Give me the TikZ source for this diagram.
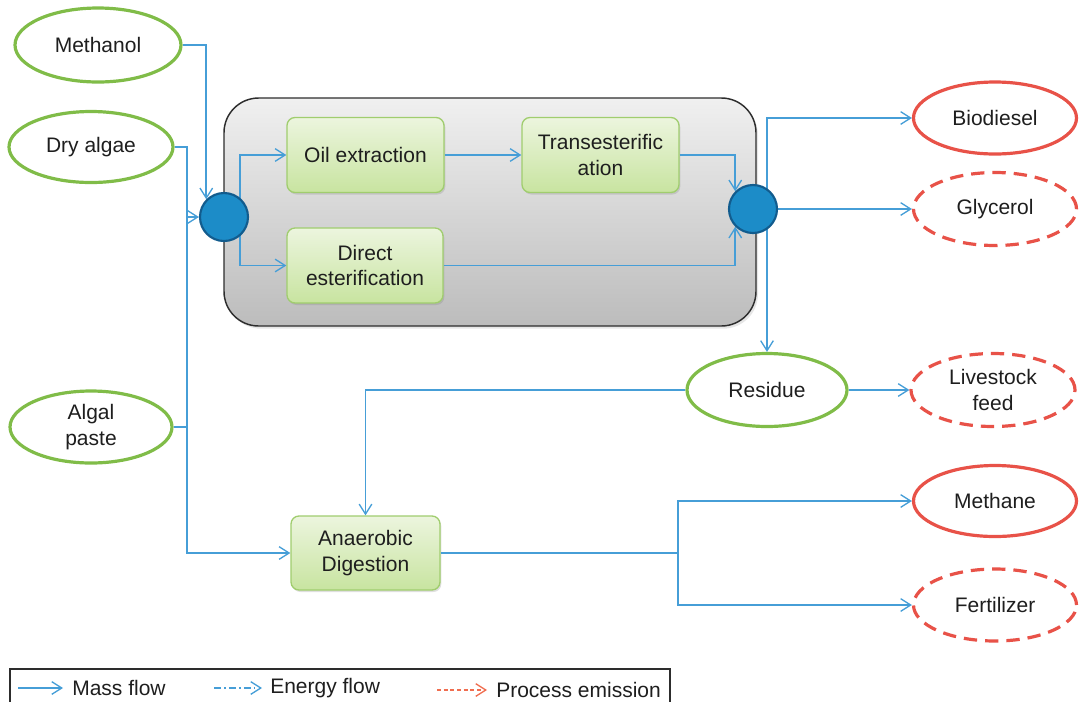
\documentclass[tikz,border=0pt]{standalone}
\usepackage{fontspec}
\setmainfont{Liberation Sans}
\usetikzlibrary{shapes.geometric,arrows.meta,shadows,calc}
\definecolor{flowblue}{RGB}{70,158,215}
\definecolor{okgreen}{RGB}{128,188,72}
\definecolor{outred}{RGB}{232,82,72}
\definecolor{emisred}{RGB}{240,110,80}
\definecolor{boxedge}{RGB}{160,205,110}
\definecolor{boxtop}{RGB}{236,245,222}
\definecolor{boxbot}{RGB}{200,228,160}
\definecolor{greytop}{RGB}{240,240,240}
\definecolor{greybot}{RGB}{188,188,188}
\definecolor{greyedge}{RGB}{45,45,45}
\definecolor{junfill}{RGB}{28,140,200}
\definecolor{junedge}{RGB}{18,92,142}
\definecolor{txt}{RGB}{30,30,30}
\newcommand\diafont{\fontsize{15.75}{19}\selectfont}
\pgfdeclarelayer{bg}
\pgfdeclarelayer{fg}
\pgfsetlayers{bg,main,fg}
\begin{document}
\begin{tikzpicture}[x=0.75pt,y=-0.75pt,
  sz/.style 2 args={minimum width=#1*0.75pt, minimum height=#2*0.75pt},
  oval/.style={ellipse, line width=2.4pt, fill=white, inner sep=0pt, font=\diafont, align=center, text=txt},
  inp/.style={oval, draw=okgreen},
  outp/.style={oval, draw=outred},
  emis/.style={oval, draw=outred, dash pattern=on 10pt off 6pt},
  procbox/.style={rectangle, rounded corners=6pt, draw=boxedge, line width=1pt,
     top color=boxtop, bottom color=boxbot, font=\diafont, align=center, text=txt, inner sep=0pt,
     drop shadow={opacity=0.25, shadow xshift=1pt, shadow yshift=-1.5pt}},
  bigbox/.style={rectangle, rounded corners=26pt, draw=greyedge, line width=1.1pt,
     top color=greytop, bottom color=greybot, inner sep=0pt,
     drop shadow={opacity=0.2, shadow xshift=1.5pt, shadow yshift=-2pt}},
  junction/.style={circle, fill=junfill, draw=junedge, line width=1.6pt, inner sep=0pt, minimum size=48*0.75pt},
  tip/.style={-{Straight Barb[length=7.5pt,width=9.5pt,line width=1pt]}},
  flow/.style={draw=flowblue, line width=1.35pt},
  flowarr/.style={flow, tip},
  legtext/.style={font=\diafont, text=txt, anchor=west, inner sep=0pt}
]
\useasboundingbox (0,0) rectangle (1082,701);

% background stage box
\begin{pgfonlayer}{bg}
\node[bigbox, sz={532}{228}] (stage) at (490,212) {};
\end{pgfonlayer}

% input ovals
\node[inp, sz={166}{74}] (meth) at (98,45) {Methanol};
\node[inp, sz={164}{71}] (dry) at (91,147) {Dry algae};
\node[inp, sz={162}{72}] (paste) at (91,427) {Algal\\paste};
\node[inp, sz={160}{73}] (res) at (767,390) {Residue};

% output ovals
\node[outp, sz={163}{72}] (bio) at (995,118) {Biodiesel};
\node[emis, sz={163}{73}] (gly) at (995,209) {Glycerol};
\node[emis, sz={164}{73}] (feed) at (993,390) {Livestock\\feed};
\node[outp, sz={163}{71}] (methane) at (995,501) {Methane};
\node[emis, sz={163}{72}] (fert) at (995,605) {Fertilizer};

% process boxes
\node[procbox, sz={157}{75}] (oil) at (365.5,155) {Oil extraction};
\node[procbox, sz={157}{75}] (trans) at (600.5,155) {Transesterific\\ation};
\node[procbox, sz={156}{75}] (direct) at (365,265.5) {Direct\\esterification};
\node[procbox, sz={149}{74}] (ad) at (365.5,553) {Anaerobic\\Digestion};

% junctions
\begin{pgfonlayer}{fg}
\node[junction] (jl) at (224,217) {};
\node[junction] (jr) at (753,209) {};
\end{pgfonlayer}

% helper coordinates for vertical buses
\coordinate (busx) at (187,0);
\coordinate (sx) at (240,0);
\coordinate (vx) at (767,0);
\coordinate (mx) at (678,0);

% inputs
\draw[flowarr] (meth.east) -| (jl.north west);
\draw[flowarr] (dry.east) -- (dry.east -| busx) -- (ad.west -| busx) -- (ad.west);
\draw[flowarr] (jl.west -| busx) -- (jl.west);
\draw[flow] (paste.east) -- (paste.east -| busx);

% split after left junction
\draw[flowarr] (jl.center -| sx) |- (oil.west);
\draw[flowarr] (jl.center -| sx) |- (direct.west);
\draw[flowarr] (oil.east) -- (trans.west);
\draw[flowarr] (trans.east) -| (jr.north west);
\draw[flowarr] (direct.east) -| (jr.south west);

% outputs of right junction
\draw[flowarr] (jr.center -| vx) |- (bio.west);
\draw[flowarr] (jr.east) -- (gly.west);
\draw[flowarr] (jr.center -| vx) -- (res.north -| vx);

% residue
\draw[flowarr] (res.west) -| (ad.north);
\draw[flowarr] (res.east) -- (feed.west);

% digestion outputs
\draw[flow] (ad.east) -- (ad.east -| mx);
\draw[flowarr] (ad.east -| mx) |- (methane.west);
\draw[flowarr] (ad.east -| mx) |- (fert.west);

% legend
\draw[greyedge, line width=0.9pt] (10,669) rectangle (670,704);
\coordinate (m1) at (18,688); \coordinate (m2) at (63,688);
\coordinate (e1) at (214,688); \coordinate (e2) at (262,688);
\coordinate (p1) at (437,690); \coordinate (p2) at (487,690);
\draw[flowarr] (m1) -- (m2);
\draw[draw=flowblue, line width=1.1pt, dash pattern=on 5pt off 2.5pt on 1.2pt off 2.5pt, tip] (e1) -- (e2);
\draw[draw=emisred, line width=1.1pt, dash pattern=on 3pt off 2pt, tip] (p1) -- (p2);
\node[legtext] (lm) at (72,688) {Mass flow};
\node[legtext] (le) at (270,688) {Energy flow};
\node[legtext] (lp) at (496,690) {Process emission};
\end{tikzpicture}
\end{document}
